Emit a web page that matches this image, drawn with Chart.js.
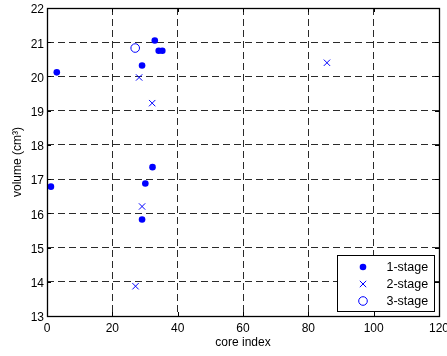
<!DOCTYPE html>
<html><head><meta charset="utf-8">
<script src="https://cdn.jsdelivr.net/npm/chart.js@4/dist/chart.umd.min.js"></script>
<style>html,body{margin:0;padding:0;background:#fff}#wrap{width:447px;height:356px;position:relative}</style>
</head><body><div id="wrap"><canvas id="c" width="447" height="356"></canvas></div>
<script>
const seriesNames = ['1-stage', '2-stage', '3-stage'];
const stage1X = [3.0, 33.0, 34.2, 35.3, 29.1, 32.3, 1.2, 30.1, 29.1];
const stage1Y = [20.12, 21.05, 20.75, 20.75, 20.32, 17.35, 16.78, 16.87, 15.82];
const stage2X = [28.2, 32.2, 85.7, 29.1, 27.1];
const stage2Y = [19.97, 19.22, 20.40, 16.20, 13.87];
const stage3X = [27.0];
const stage3Y = [20.83];
const xTicks = [0, 20, 40, 60, 80, 100, 120];
const yTicks = [13, 14, 15, 16, 17, 18, 19, 20, 21, 22];
const xLabel = 'core index';
const yLabel = 'volume (cm\u00B3)';

const FONT = 'Liberation Sans, Arial, Helvetica, sans-serif';
const BLUE = '#0000ff';
const pts = (xs, ys) => xs.map((x, i) => ({x: x, y: ys[i]}));

const frameAndLegend = {
  id: 'frameAndLegend',
  afterDatasetsDraw(chart) {
    const ctx = chart.ctx;
    const a = chart.chartArea;
    const xs = chart.scales.x, ys = chart.scales.y;
    ctx.save();
    ctx.strokeStyle = '#000';
    ctx.lineWidth = 1;
    ctx.setLineDash([]);
    // inner tick marks
    const tl = 4;
    ctx.beginPath();
    xTicks.forEach(v => {
      const px = Math.round(xs.getPixelForValue(v)) + 0.5;
      ctx.moveTo(px, a.bottom); ctx.lineTo(px, a.bottom - tl);
      ctx.moveTo(px, a.top); ctx.lineTo(px, a.top + tl);
    });
    yTicks.forEach(v => {
      const py = Math.round(ys.getPixelForValue(v)) + 0.5;
      ctx.moveTo(a.left, py); ctx.lineTo(a.left + tl, py);
      ctx.moveTo(a.right, py); ctx.lineTo(a.right - tl, py);
    });
    ctx.stroke();
    // frame
    ctx.lineWidth = 1.3;
    ctx.strokeRect(Math.round(a.left) + 0.5, Math.round(a.top) + 0.5,
                   Math.round(a.right - a.left), Math.round(a.bottom - a.top));
    // legend
    const bw = 97, bh = 56;
    const bx = Math.round(a.right - 5.5 - bw) + 0.5;
    const by = Math.round(a.bottom - 5 - bh) + 0.5;
    ctx.fillStyle = '#fff';
    ctx.fillRect(bx, by, bw, bh);
    ctx.lineWidth = 1;
    ctx.strokeStyle = '#000';
    ctx.strokeRect(bx, by, bw, bh);
    const styles = ['dot', 'x', 'o'];
    ctx.font = '12.5px ' + FONT;
    ctx.textBaseline = 'middle';
    ctx.textAlign = 'left';
    seriesNames.forEach((name, i) => {
      const cy = by + 11.5 + i * 17;
      const cx = bx + 25.5;
      ctx.strokeStyle = BLUE; ctx.fillStyle = BLUE; ctx.lineWidth = 1;
      ctx.beginPath();
      if (styles[i] === 'dot') {
        ctx.arc(cx, cy, 3.3, 0, Math.PI * 2); ctx.fill();
      } else if (styles[i] === 'x') {
        const d = 3.2;
        ctx.moveTo(cx - d, cy - d); ctx.lineTo(cx + d, cy + d);
        ctx.moveTo(cx + d, cy - d); ctx.lineTo(cx - d, cy + d); ctx.stroke();
      } else {
        ctx.arc(cx, cy, 4.3, 0, Math.PI * 2); ctx.stroke();
      }
      ctx.fillStyle = '#000';
      ctx.fillText(name, bx + 49, cy + 0.5);
    });
    ctx.restore();
  }
};

new Chart(document.getElementById('c'), {
  type: 'scatter',
  data: {
    datasets: [
      {label: seriesNames[0], data: pts(stage1X, stage1Y), pointStyle: 'circle', pointRadius: 3.3,
       pointBackgroundColor: BLUE, pointBorderColor: BLUE, pointBorderWidth: 0, showLine: false},
      {label: seriesNames[1], data: pts(stage2X, stage2Y), pointStyle: 'crossRot', pointRadius: 4.5,
       pointBackgroundColor: BLUE, pointBorderColor: BLUE, pointBorderWidth: 1, showLine: false},
      {label: seriesNames[2], data: pts(stage3X, stage3Y), pointStyle: 'circle', pointRadius: 4.3,
       pointBackgroundColor: 'rgba(0,0,0,0)', pointBorderColor: BLUE, pointBorderWidth: 1, showLine: false}
    ]
  },
  options: {
    responsive: false,
    animation: false,
    devicePixelRatio: 1,
    layout: {padding: {top: 8, right: 8, left: 0, bottom: 0}},
    plugins: {legend: {display: false}, tooltip: {enabled: false}},
    scales: {
      x: {
        type: 'linear', min: 0, max: 120, position: 'bottom',
        afterBuildTicks: s => { s.ticks = xTicks.map(v => ({value: v})); },
        afterFit: s => { s.height = 40; s.paddingLeft = 0; s.paddingRight = 0; },
        ticks: {padding: 5, color: '#000', font: {family: FONT, size: 12}, maxRotation: 0, autoSkip: false},
        grid: {color: '#2a2a2a', lineWidth: 1, drawTicks: false},
        border: {display: false, dash: [7, 4]},
        title: {display: true, text: xLabel, color: '#000', font: {family: FONT, size: 12}, padding: {top: 0, bottom: 6}}
      },
      y: {
        type: 'linear', min: 13, max: 22, position: 'left',
        afterBuildTicks: s => { s.ticks = yTicks.map(v => ({value: v})); },
        afterFit: s => { s.width = 47; s.paddingTop = 0; s.paddingBottom = 0; },
        ticks: {padding: 3, labelOffset: 2, color: '#000', font: {family: FONT, size: 12}, autoSkip: false},
        grid: {color: '#2a2a2a', lineWidth: 1, drawTicks: false},
        border: {display: false, dash: [7, 4]},
        title: {display: true, text: yLabel, color: '#000', font: {family: FONT, size: 12}, padding: {top: 10, bottom: 0}}
      }
    }
  },
  plugins: [frameAndLegend]
});
</script>
</body></html>
